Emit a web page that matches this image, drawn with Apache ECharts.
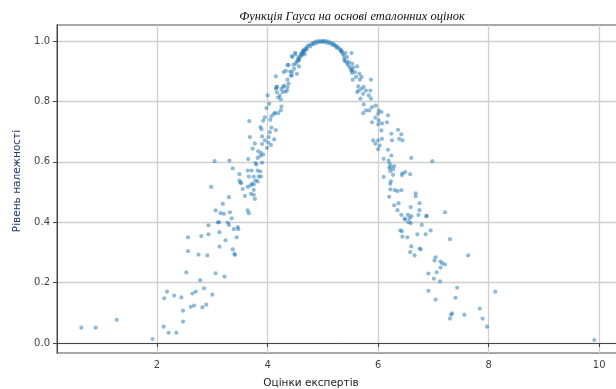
<!DOCTYPE html>
<html>
<head>
<meta charset="utf-8">
<script src="https://cdn.jsdelivr.net/npm/echarts@6/dist/echarts.min.js"></script>
<style>
  html, body { margin: 0; padding: 0; background: #fff; }
  #chart { width: 616px; height: 389px; }
</style>
</head>
<body>
<div id="chart"></div>
<script>
// оцінка експерта -> рівень належності, зчитано з картинки по ділянках
const leftTail = [[0.63,0.051],[0.89,0.051],[1.27,0.077],[1.92,0.013]];

const leftRise = [
  [2.12,0.054],[2.21,0.034],[2.35,0.034],[2.47,0.071],[2.47,0.107],[2.13,0.148],[2.18,0.170],[2.31,0.157],
  [2.44,0.151],[2.61,0.120],[2.67,0.124],[2.64,0.164],[2.70,0.170],[2.82,0.118],[2.89,0.127],[2.85,0.181],
  [3.00,0.160],[2.78,0.208],[2.53,0.234],[3.06,0.231],[3.22,0.220],[2.56,0.304],[2.75,0.293],[2.91,0.290],
  [2.56,0.350],[2.80,0.354],[2.93,0.360],[3.13,0.367],[3.24,0.340],[3.13,0.319],[3.37,0.310],[3.40,0.295],
  [3.41,0.292],[3.44,0.350],[3.39,0.377],[3.47,0.377],[3.46,0.384],[2.93,0.390],[3.10,0.399],[3.12,0.400],
  [3.28,0.399],[3.30,0.391],[3.35,0.413],[3.06,0.439],[3.15,0.430],[3.21,0.428],[3.32,0.433],[3.19,0.461],
  [3.30,0.483],[2.98,0.517],[3.64,0.439],[3.66,0.430],[3.59,0.487],[3.64,0.517],[3.55,0.510],[3.77,0.477],
  [3.70,0.494],[3.75,0.491],[3.75,0.507],[3.69,0.522],[3.72,0.527],[3.75,0.525],[3.49,0.538],[3.52,0.529],
  [3.49,0.559],[3.51,0.532],[3.66,0.551],[3.75,0.551],[3.84,0.551],[3.88,0.551],[3.78,0.538],[3.82,0.535],
  [3.64,0.571],[3.71,0.571],[3.82,0.571],[3.87,0.568],[3.80,0.591],[3.78,0.596],[3.90,0.597],[3.37,0.578],
  [3.04,0.602],[3.31,0.604]
];

const upperLeft = [
  [3.67,0.735],[3.68,0.682],[3.73,0.644],[3.65,0.609],[3.87,0.620],[3.83,0.635],[3.90,0.659],[3.90,0.684],
  [3.89,0.708],[3.87,0.715],[3.95,0.671],[4.02,0.682],[4.04,0.698],[4.07,0.713],[4.06,0.656],[3.99,0.646],
  [4.01,0.664],[4.12,0.674],[4.15,0.705],[4.05,0.739],[4.07,0.751],[4.13,0.762],[3.98,0.778],[4.00,0.820],
  [4.03,0.792],[4.15,0.883],[4.12,0.759],[4.19,0.761],[4.24,0.770],[4.25,0.783],[4.24,0.807],[4.17,0.848],
  [4.15,0.842],[4.17,0.830],[4.22,0.819],[4.27,0.831],[4.28,0.848],[4.35,0.836],[4.38,0.859],[4.36,0.872],
  [4.33,0.901],[4.29,0.897],[4.36,0.920],[4.44,0.897],[4.42,0.885],[4.45,0.947],
  [3.95,0.747],[3.92,0.736],[3.77,0.661],[3.88,0.630],[3.92,0.624],[3.82,0.613],[4.44,0.950],[4.56,0.941],
  [4.47,0.921],[4.38,0.921],[4.41,0.899],[4.48,0.908],[4.53,0.891],[4.44,0.886],[4.30,0.852],[4.36,0.847],
  [4.32,0.832],[4.25,0.841],[4.16,0.847],[4.19,0.813]
];

const peak = [
  [4.50,0.956],[4.51,0.925],[4.55,0.936],[4.57,0.916],[4.56,0.947],[4.61,0.958],[4.65,0.967],[4.67,0.956],
  [4.71,0.973],[4.77,0.982],[4.83,0.989],[4.89,0.993],[4.95,0.996],[5.01,0.997],[5.07,0.994],[5.13,0.991],
  [5.19,0.986],[5.25,0.978],[5.32,0.969],[5.35,0.964],[5.41,0.960],[5.52,0.960],[5.44,0.947],[5.39,0.934],
  [5.47,0.930],[5.53,0.925],[5.55,0.912],[5.52,0.903],[5.58,0.897],[5.62,0.916],[5.60,0.881],[5.54,0.872],
  [5.66,0.892],[5.70,0.881],[5.67,0.872],[5.87,0.872],
  [4.57,0.936],[4.59,0.947],[4.61,0.954],[4.63,0.963],[4.65,0.969],[4.68,0.974],[4.71,0.980],[4.74,0.986],
  [4.79,0.990],[4.83,0.994],[4.87,0.998],[4.92,1.000],[4.97,1.000],[5.01,1.000],[5.05,1.000],[5.10,0.998],
  [5.15,0.994],[5.19,0.991],[5.22,0.986],[5.25,0.982],[5.28,0.977],[5.32,0.972],[5.33,0.966],[5.36,0.958],
  [5.38,0.950],[5.39,0.941],[5.42,0.932],[5.44,0.924],[5.47,0.917],[5.50,0.910],[5.52,0.902],[5.53,0.894],
  [4.68,0.969],[4.65,0.961],[4.62,0.954],[4.50,0.961],[4.53,0.932]
];

const upperRight = [
  [5.64,0.850],[5.62,0.831],[5.65,0.836],[5.70,0.842],[5.74,0.848],[5.78,0.836],[5.73,0.825],[5.86,0.836],
  [5.68,0.809],[5.83,0.820],[5.87,0.809],[5.74,0.790],[5.84,0.770],[5.89,0.781],[5.96,0.786],[6.01,0.770],
  [5.73,0.761],[5.78,0.770],[6.00,0.759],[6.06,0.765],[5.95,0.746],[6.01,0.737],[6.00,0.724],[5.89,0.731],
  [6.18,0.754],[6.07,0.727],[6.16,0.731],[6.06,0.704],[5.91,0.671],[5.95,0.660],[6.00,0.671],[6.07,0.676],
  [6.03,0.654],[6.00,0.642],[6.10,0.610],[6.24,0.693],[6.25,0.671],[6.36,0.706],[6.42,0.691],[6.44,0.671],
  [6.38,0.676],[6.18,0.640],[6.24,0.621],[6.19,0.604],[6.60,0.613]
];

const lowerRight = [
  [6.21,0.593],[6.23,0.583],[6.29,0.586],[6.27,0.575],[6.20,0.580],[6.22,0.569],[6.27,0.557],[6.10,0.550],
  [6.44,0.562],[6.43,0.556],[6.49,0.566],[6.58,0.559],[6.98,0.602],
  [6.23,0.535],[6.22,0.527],[6.22,0.509],[6.30,0.506],[6.35,0.503],[6.42,0.506],[6.68,0.496],[6.68,0.486],
  [6.20,0.484],[6.37,0.463],[6.29,0.456],[6.35,0.440],[6.59,0.450],[6.75,0.463],[6.75,0.440],[6.42,0.424],
  [6.49,0.409],[6.48,0.412],[6.57,0.413],[6.60,0.420],[6.54,0.424],[6.73,0.424],[6.88,0.421],[6.87,0.420],
  [7.21,0.433],[6.59,0.397],[6.55,0.400],[6.79,0.391],[6.43,0.370],[6.40,0.373],[6.95,0.373],[6.86,0.360],
  [6.71,0.360],[6.53,0.350],[6.44,0.352],[6.60,0.320],[6.77,0.310],[6.75,0.313],[6.58,0.301],[6.66,0.290],
  [7.30,0.344],[7.63,0.290],[7.04,0.284],[7.02,0.273],[7.13,0.270],[7.16,0.264],[7.21,0.260],[7.13,0.250],
  [7.06,0.234],[6.91,0.230],[7.01,0.213],[7.12,0.204],[6.91,0.173],[7.04,0.144],[7.43,0.183],[7.40,0.150],
  [7.30,0.081],[7.32,0.094],[7.34,0.098],[7.56,0.094],[7.84,0.114],[7.89,0.081],[7.97,0.054],[8.12,0.170]
];

const rightTail = [[9.91,0.010]];

const xTicks = [2, 4, 6, 8, 10];
const yTicks = [0, 0.2, 0.4, 0.6, 0.8, 1.0];

const points = [].concat(leftTail, leftRise, upperLeft, peak, upperRight, lowerRight, rightTail);

const chart = echarts.init(document.getElementById('chart'));

const option = {
  backgroundColor: '#fff',
  animation: false,
  title: {
    text: 'Функція Гауса на основі еталонних оцінок',
    left: 347,
    top: 5,
    textAlign: 'center',
    textStyle: { fontFamily: 'Liberation Serif', fontStyle: 'italic', fontWeight: 'normal', fontSize: 12.5, color: '#111' }
  },
  grid: {
    left: 57, right: -2, top: 25, bottom: 36,
    show: true, borderColor: '#8a8a8a', borderWidth: 1.5,
    outerBoundsMode: 'none'
  },
  xAxis: {
    type: 'value',
    min: 0.19,
    max: 10.34,
    name: 'Оцінки експертів',
    nameLocation: 'middle',
    nameGap: 25,
    nameTextStyle: { color: '#222', fontSize: 10.5, fontFamily: 'DejaVu Sans', padding: [0, 53, 0, 0] },
    axisLine: { show: true, lineStyle: { color: '#444', width: 1 } },
    axisTick: { show: true, length: 4, customValues: xTicks, lineStyle: { color: '#444' } },
    axisLabel: { customValues: xTicks, color: '#444', fontSize: 10, fontFamily: 'DejaVu Sans', margin: 7 },
    splitLine: { show: true, lineStyle: { color: '#cfcfcf', width: 1.3 } }
  },
  yAxis: {
    type: 'value',
    min: -0.033,
    max: 1.053,
    name: 'Рівень належності',
    nameLocation: 'middle',
    nameGap: 29,
    nameTextStyle: { color: '#1f3a6e', fontSize: 10.5, fontFamily: 'DejaVu Sans', padding: [0, 0, 0, 16] },
    axisLine: { show: true, lineStyle: { color: '#444', width: 1 } },
    axisTick: { show: true, length: 4, customValues: yTicks, lineStyle: { color: '#444' } },
    axisLabel: {
      customValues: yTicks, color: '#444', fontSize: 10, fontFamily: 'DejaVu Sans', margin: 7,
      formatter: v => v.toFixed(1)
    },
    splitLine: { show: true, lineStyle: { color: '#cfcfcf', width: 1.3 } }
  },
  series: [{
    type: 'scatter',
    data: points,
    symbolSize: 4.2,
    itemStyle: { color: '#1f77b4', opacity: 0.5 }
  }]
};

chart.setOption(option);
</script>
</body>
</html>
